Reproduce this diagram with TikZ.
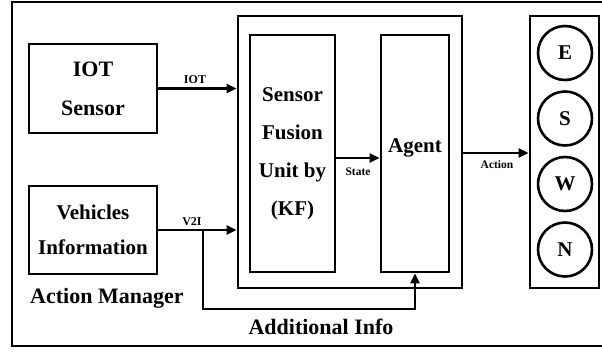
\documentclass[tikz,border=0pt]{standalone}
\usepackage{fontspec}
\setmainfont{Liberation Serif}
\usetikzlibrary{arrows.meta}
\begin{document}
\begin{tikzpicture}[x=1pt,y=-1pt,
  box/.style={draw,line width=2.8pt,inner sep=0pt,align=center},
  conn/.style={line width=2.8pt,-{Triangle[length=10pt,width=9pt]}},
  big/.style={font=\bfseries\fontsize{21}{38}\selectfont},
  small/.style={font=\bfseries\fontsize{12}{13}\selectfont,inner sep=0pt},
  dir/.style={draw,circle,line width=2.6pt,minimum size=54pt,inner sep=0pt,font=\bfseries\fontsize{21}{22}\selectfont}]
\useasboundingbox (0,0) rectangle (602,351);
\draw[line width=2.8pt] (602,2) -- (12,2) -- (12,346) -- (602,346);
% left boxes
\node[box,minimum width=128,minimum height=89,font=\bfseries\fontsize{22}{39}\selectfont] (iot) at (93,88.5) {IOT\\Sensor};
\node[box,minimum width=128,minimum height=88,font=\bfseries\fontsize{21}{35}\selectfont] (veh) at (93,230) {Vehicles\\Information};
\node[font=\bfseries\fontsize{22}{23}\selectfont,anchor=west,inner sep=0pt] (am) at (30,298) {Action Manager};
% middle big box
\node[box,minimum width=224,minimum height=272] (mid) at (350,152) {};
\node[box,big,minimum width=85,minimum height=237] (sfu) at (292.5,153.5) {Sensor\\Fusion\\Unit by\\(KF)};
\node[box,minimum width=68,minimum height=237] (agent) at (415,153.5) {};
\node[big,inner sep=0pt] (agenttxt) at (415,148) {Agent};
% right box
\node[box,minimum width=69,minimum height=272] (dirs) at (564.5,152) {};
\node[dir] (E) at (565,53) {E};
\node[dir] (S) at (565,118.5) {S};
\node[dir] (W) at (565,184) {W};
\node[dir] (N) at (565,249.5) {N};
% connectors
\coordinate (iotin) at (mid.west |- iot.east);
\coordinate (vehin) at (mid.west |- veh.east);
\draw[conn] (iot.east) -- (iotin);
\node[small] (iotlbl) at (195,80) {IOT};
\draw[conn] (veh.east) -- (vehin);
\node[small] (v2ilbl) at (192,222) {V2I};
\coordinate (stout) at (sfu.east |- 0,158);
\coordinate (stin) at (agent.west |- 0,158);
\draw[conn] (stout) -- (stin);
\node[small,font=\bfseries\fontsize{11.5}{12}\selectfont] (statelbl) at (358,172) {State};
\coordinate (acout) at (mid.east |- 0,153);
\coordinate (acin) at (dirs.west |- 0,153);
\draw[conn] (acout) -- (acin);
\node[small,font=\bfseries\fontsize{11.5}{12}\selectfont] (actionlbl) at (497,165) {Action};
\coordinate (split) at (203,230);
\coordinate (c1) at (203,309);
\coordinate (c2) at (agent.south |- c1);
\draw[conn] (split) -- (c1) -- (c2) -- (agent.south);
\node[font=\bfseries\fontsize{22}{23}\selectfont,inner sep=0pt] (addl) at (321,327) {Additional Info};
\end{tikzpicture}
\end{document}
